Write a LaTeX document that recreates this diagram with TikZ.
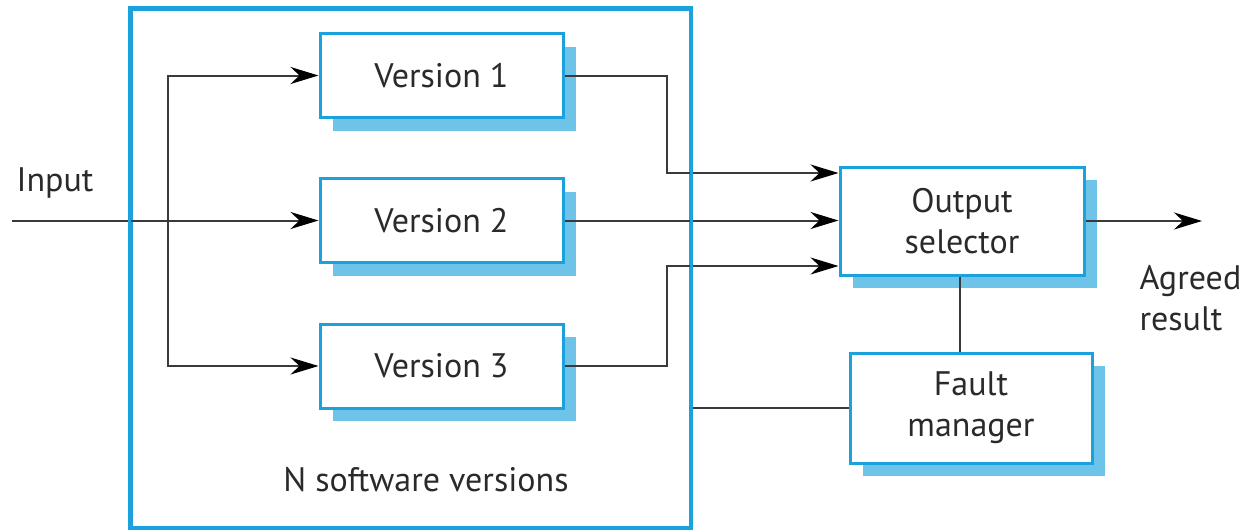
\documentclass[tikz,border=0pt]{standalone}
\usepackage{fontspec}
\setmainfont{PT Sans}
\usetikzlibrary{arrows.meta,shadows}
\definecolor{lineblue}{HTML}{1BA1DB}
\definecolor{shadowblue}{HTML}{6EC4E8}
\definecolor{txt}{HTML}{2A2A2A}
\definecolor{conn}{HTML}{3A3A3A}
\begin{document}
\begin{tikzpicture}[x=1pt,y=-1pt,
  txtstyle/.style={text=txt,font=\fontsize{34}{41}\selectfont},
  blk/.style={draw=lineblue,line width=3pt,fill=white,inner sep=0pt,align=center,
    txtstyle,general shadow={fill=shadowblue,shadow xshift=13pt,shadow yshift=-13pt}},
  vbox/.style={blk,minimum width=243pt,minimum height=84pt},
  conline/.style={draw=conn,line width=2pt},
  arr/.style={conline,-{Stealth[length=28pt,width=17pt,inset=9pt,fill=black,color=black]}}]
\useasboundingbox (0,0) rectangle (1248,530);
\node[draw=lineblue,line width=3pt,minimum width=559pt,minimum height=518pt] (outer) at (410.5,268) {};
\node[txtstyle] (nlab) at (426,480) {N software versions};
\node[vbox] (v1) at (441.5,75.5) {Version 1};
\node[vbox] (v2) at (441.5,220.5) {Version 2};
\node[vbox] (v3) at (441.5,366) {Version 3};
\node[blk,minimum width=244pt,minimum height=108pt] (os) at (962,221) {Output\\selector};
\node[blk,minimum width=242pt,minimum height=110pt] (fm) at (971,408) {Fault\\manager};
\node[txtstyle] (inlab) at (55,183) {Input};
\node[txtstyle,align=left,anchor=west] (agr) at (1136,298) {Agreed\\result};
\coordinate (in) at (12,220.5);
\coordinate (split) at (168,220.5);
\coordinate (out) at (1202,221);
\draw[arr] (in) -- (v2.west);
\draw[arr] (split) |- (v1.west);
\draw[arr] (split) |- (v3.west);
\draw[arr] (v1.east) -- ++(102,0) |- ([yshift=48pt]os.west);
\draw[arr] (v2.east) -- (v2.east -| os.west);
\draw[arr] (v3.east) -- ++(102,0) |- ([yshift=-45pt]os.west);
\draw[arr] (os.east) -- (out);
\draw[conline] ([xshift=-2pt]os.south) -- ([xshift=-2pt]os.south |- fm.north);
\draw[conline] (fm.west) -- (fm.west -| outer.east);
\draw[draw=lineblue,line width=3pt] (outer.north west) rectangle (outer.south east);
\end{tikzpicture}
\end{document}
